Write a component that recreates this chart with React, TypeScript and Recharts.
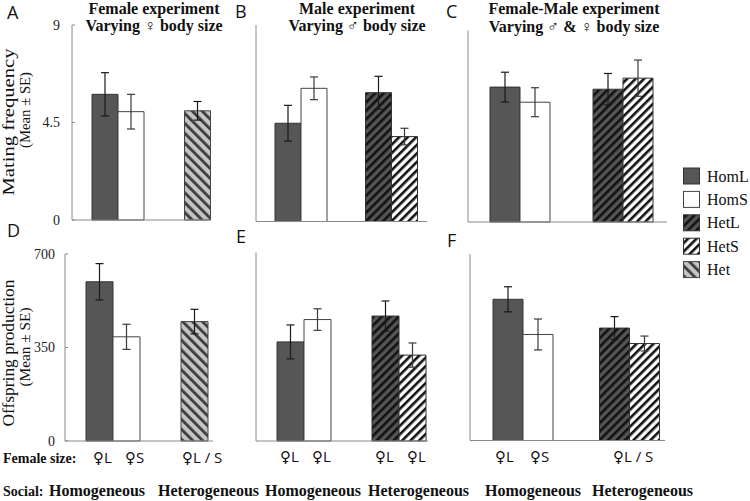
import React from 'react';
import { BarChart, Bar, XAxis, YAxis, ErrorBar, Cell } from 'recharts';

// ---------- data ----------
const groups = ['Homogeneous', 'Heterogeneous'];

// Panel A – mating frequency, female experiment
const aTreatments = ['HomL', 'HomS', 'Het'];
const aMeans = [5.8, 5.0, 5.04];
const aSE = [1.0, 0.8, 0.43];

// Panel B – mating frequency, male experiment
const bTreatments = ['HomL', 'HomS', 'HetL', 'HetS'];
const bMeans = [4.5, 6.1, 5.9, 3.89];
const bSE = [0.82, 0.52, 0.75, 0.38];

// Panel C – mating frequency, female-male experiment
const cTreatments = ['HomL', 'HomS', 'HetL', 'HetS'];
const cMeans = [6.34, 5.63, 6.24, 6.76];
const cSE = [0.7, 0.68, 0.74, 0.85];

// Panel D – offspring production, female experiment
const dTreatments = ['HomL', 'HomS', 'Het'];
const dMeans = [596, 390, 447];
const dSE = [68, 47, 46];

// Panel E – offspring production, male experiment
const eTreatments = ['HomL', 'HomS', 'HetL', 'HetS'];
const eMeans = [368, 451, 464, 319];
const eSE = [63, 40, 56, 45];

// Panel F – offspring production, female-male experiment
const fTreatments = ['HomL', 'HomS', 'HetL', 'HetS'];
const fMeans = [530, 398, 422, 364];
const fSE = [47, 58, 43, 28];

const matingTicks = [0, 4.5, 9];
const offspringTicks = [0, 350, 700];
const legendItems = ['HomL', 'HomS', 'HetL', 'HetS', 'Het'];

// ---------- helpers ----------
type Row = { group: string; L: number | null; Lse: number | null; Lt: string; S: number | null; Sse: number | null; St: string };

function buildRows(treatments: string[], means: number[], ses: number[]): Row[] {
  const rows: Row[] = groups.map((g) => ({ group: g, L: null, Lse: null, Lt: '', S: null, Sse: null, St: '' }));
  treatments.forEach((t, i) => {
    const row: any = rows[t.startsWith('Hom') ? 0 : 1];
    const slot = t.endsWith('S') ? 'S' : 'L';
    row[slot] = means[i];
    row[slot + 'se'] = ses[i];
    row[slot + 't'] = t;
  });
  return rows;
}

const fills: Record<string, string> = {
  HomL: '#565656',
  HomS: '#ffffff',
  HetL: 'url(#pHetL)',
  HetS: 'url(#pHetS)',
  Het: 'url(#pHet)',
};
const strokes: Record<string, string> = {
  HomL: '#333333',
  HomS: '#444444',
  HetL: '#333333',
  HetS: '#333333',
  Het: '#444444',
};

const SERIF = "'Liberation Serif', 'DejaVu Serif', serif";
const SANS = "'Open Sans', 'DejaVu Sans', sans-serif";
const AXIS = '#8a8a8a';

type PanelProps = {
  rows: Row[];
  ticks: number[];
  axisX: number;
  plotW: number;
  top: number;
  bottom: number;
  chartTop: number;
  yW: number;
  barSize: number;
  showLabels: boolean;
  tickMargin: number;
  axisLen: number;
};

function Panel(p: PanelProps) {
  const mb = 12;
  const xh = 1;
  const height = p.bottom - p.chartTop + mb + xh;
  const width = p.yW + p.plotW + 2;
  const max = p.ticks[p.ticks.length - 1];
  return (
    <div style={{ position: 'absolute', left: p.axisX - p.yW, top: p.chartTop }}>
      <BarChart
        width={width}
        height={height}
        data={p.rows}
        margin={{ top: p.top - p.chartTop, right: 2, bottom: mb, left: 0 }}
        barGap={0}
        barSize={p.barSize}
      >
        <XAxis
          dataKey="group"
          height={xh}
          tick={false}
          tickLine={false}
          axisLine={{ stroke: AXIS, strokeWidth: 1, strokeDasharray: `${p.axisLen} 3000` }}
        />
        <YAxis
          width={p.yW}
          domain={[0, max]}
          ticks={p.ticks}
          interval={0}
          tickSize={-3}
          tickMargin={p.tickMargin}
          tick={p.showLabels ? { fontFamily: SERIF, fontSize: 14, fill: '#222' } : false}
          axisLine={{ stroke: AXIS }}
          tickLine={{ stroke: AXIS }}
        />
        <Bar dataKey="L" isAnimationActive={false}>
          {p.rows.map((r, i) => (
            <Cell key={i} fill={fills[r.Lt] || 'none'} stroke={strokes[r.Lt] || 'none'} strokeWidth={1} />
          ))}
          <ErrorBar dataKey="Lse" width={4} stroke="#1a1a1a" strokeWidth={1.2} />
        </Bar>
        <Bar dataKey="S" isAnimationActive={false}>
          {p.rows.map((r, i) => (
            <Cell key={i} fill={fills[r.St] || 'none'} stroke={strokes[r.St] || 'none'} strokeWidth={1} />
          ))}
          <ErrorBar dataKey="Sse" width={4} stroke="#3a3a3a" strokeWidth={1.2} />
        </Bar>
      </BarChart>
    </div>
  );
}

const rowsA = buildRows(aTreatments, aMeans, aSE);
const rowsB = buildRows(bTreatments, bMeans, bSE);
const rowsC = buildRows(cTreatments, cMeans, cSE);
const rowsD = buildRows(dTreatments, dMeans, dSE);
const rowsE = buildRows(eTreatments, eMeans, eSE);
const rowsF = buildRows(fTreatments, fMeans, fSE);

function Overlay() {
  const title = { fontFamily: SERIF, fontSize: 16, fontWeight: 700, fill: '#111', textAnchor: 'middle' as const };
  const letter = { fontFamily: SANS, fontSize: 18, fill: '#111' };
  const sizeLab = { fontFamily: SANS, fontSize: 15, fill: '#111' };
  const social = { fontFamily: SERIF, fontSize: 16, fontWeight: 700, fill: '#111' };
  return (
    <svg width={750} height={501} style={{ position: 'absolute', left: 0, top: 0, pointerEvents: 'none' }}>
      <defs>
        <pattern id="pHetL" patternUnits="userSpaceOnUse" width="6" height="6" patternTransform="rotate(45)">
          <rect width="6" height="6" fill="#555555" />
          <rect width="2.6" height="6" fill="#111111" />
        </pattern>
        <pattern id="pHetS" patternUnits="userSpaceOnUse" width="6" height="6" patternTransform="rotate(45)">
          <rect width="6" height="6" fill="#ffffff" />
          <rect width="2.6" height="6" fill="#111111" />
        </pattern>
        <pattern id="pHet" patternUnits="userSpaceOnUse" width="7" height="7" patternTransform="rotate(-45)">
          <rect width="7" height="7" fill="#c4c4c4" />
          <rect width="2.8" height="7" fill="#3c3c3c" />
        </pattern>
      </defs>

      {/* titles */}
      <text x={154} y={13.5} {...title}>Female experiment</text>
      <text x={154} y={31} {...title}>Varying ♀ body size</text>
      <text x={357} y={13.5} {...title}>Male experiment</text>
      <text x={357} y={31} {...title}>Varying ♂ body size</text>
      <text x={574} y={13.5} {...title}>Female-Male experiment</text>
      <text x={574} y={31.5} {...title}>Varying ♂ &amp; ♀ body size</text>

      {/* panel letters */}
      <text x={7} y={19} {...letter}>A</text>
      <text x={235} y={18} {...letter}>B</text>
      <text x={446} y={18} {...letter}>C</text>
      <text x={7} y={237} {...letter}>D</text>
      <text x={236} y={243} {...letter}>E</text>
      <text x={447} y={247} {...letter}>F</text>

      {/* y axis titles */}
      <text transform="translate(14,122) rotate(-90)" textAnchor="middle" fontFamily={SERIF} fontSize={16} fill="#111" textLength={147} lengthAdjust="spacingAndGlyphs">Mating frequency</text>
      <text transform="translate(30,110) rotate(-90)" textAnchor="middle" fontFamily={SERIF} fontSize={15} fill="#111" textLength={76} lengthAdjust="spacingAndGlyphs">(Mean ± SE)</text>
      <text transform="translate(14,353) rotate(-90)" textAnchor="middle" fontFamily={SERIF} fontSize={16} fill="#111" textLength={147} lengthAdjust="spacingAndGlyphs">Offspring production</text>
      <text transform="translate(30,347) rotate(-90)" textAnchor="middle" fontFamily={SERIF} fontSize={15} fill="#111" textLength={79} lengthAdjust="spacingAndGlyphs">(Mean ± SE)</text>

      {/* female size row */}
      <text x={3} y={463} fontFamily={SERIF} fontSize={14} fontWeight={700} fill="#111">Female size:</text>
      <text x={93} y={463} {...sizeLab}>♀L</text>
      <text x={125} y={463} {...sizeLab}>♀S</text>
      <text x={182} y={463} {...sizeLab}>♀L / S</text>
      <text x={280} y={462} {...sizeLab}>♀L</text>
      <text x={312} y={462} {...sizeLab}>♀L</text>
      <text x={375} y={462} {...sizeLab}>♀L</text>
      <text x={407} y={462} {...sizeLab}>♀L</text>
      <text x={495} y={462} {...sizeLab}>♀L</text>
      <text x={530} y={462} {...sizeLab}>♀S</text>
      <text x={613} y={462} {...sizeLab}>♀L / S</text>

      {/* social row */}
      <text x={3} y={496} fontFamily={SERIF} fontSize={14} fontWeight={700} fill="#111">Social:</text>
      <text x={49} y={496} {...social}>{groups[0]}</text>
      <text x={158} y={496} {...social}>{groups[1]}</text>
      <text x={265} y={496} {...social}>{groups[0]}</text>
      <text x={368} y={496} {...social}>{groups[1]}</text>
      <text x={485} y={496} {...social}>{groups[0]}</text>
      <text x={592} y={496} {...social}>{groups[1]}</text>

      {/* legend */}
      {legendItems.map((k, i) => {
        const y = 168 + i * 23.4;
        return (
          <g key={k}>
            <rect x={683.5} y={y} width={16} height={16} fill={fills[k]} stroke={strokes[k]} strokeWidth={1} />
            <text x={707} y={y + 13.5} fontFamily={SERIF} fontSize={16} fill="#111">{k}</text>
          </g>
        );
      })}
    </svg>
  );
}

export default function App() {
  return (
    <div style={{ position: 'absolute', left: 0, top: 0, width: 750, height: 501, background: '#fff', overflow: 'hidden' }}>
      <Overlay />
      <Panel rows={rowsA} ticks={matingTicks} axisX={72} plotW={185} top={25} bottom={220} chartTop={0} yW={72} barSize={26} showLabels tickMargin={15} axisLen={138} />
      <Panel rows={rowsB} ticks={matingTicks} axisX={256} plotW={181} top={25} bottom={221.5} chartTop={0} yW={10} barSize={26} showLabels={false} tickMargin={4} axisLen={171} />
      <Panel rows={rowsC} ticks={matingTicks} axisX={468} plotW={206} top={30.5} bottom={222} chartTop={0} yW={10} barSize={30} showLabels={false} tickMargin={4} axisLen={199} />
      <Panel rows={rowsD} ticks={offspringTicks} axisX={65} plotW={190} top={254} bottom={441} chartTop={230} yW={65} barSize={27} showLabels tickMargin={13} axisLen={148} />
      <Panel rows={rowsE} ticks={offspringTicks} axisX={256} plotW={190} top={252.5} bottom={441} chartTop={230} yW={10} barSize={27} showLabels={false} tickMargin={4} axisLen={172} />
      <Panel rows={rowsF} ticks={offspringTicks} axisX={470} plotW={213} top={254} bottom={440.5} chartTop={230} yW={10} barSize={30} showLabels={false} tickMargin={4} axisLen={195} />
    </div>
  );
}
